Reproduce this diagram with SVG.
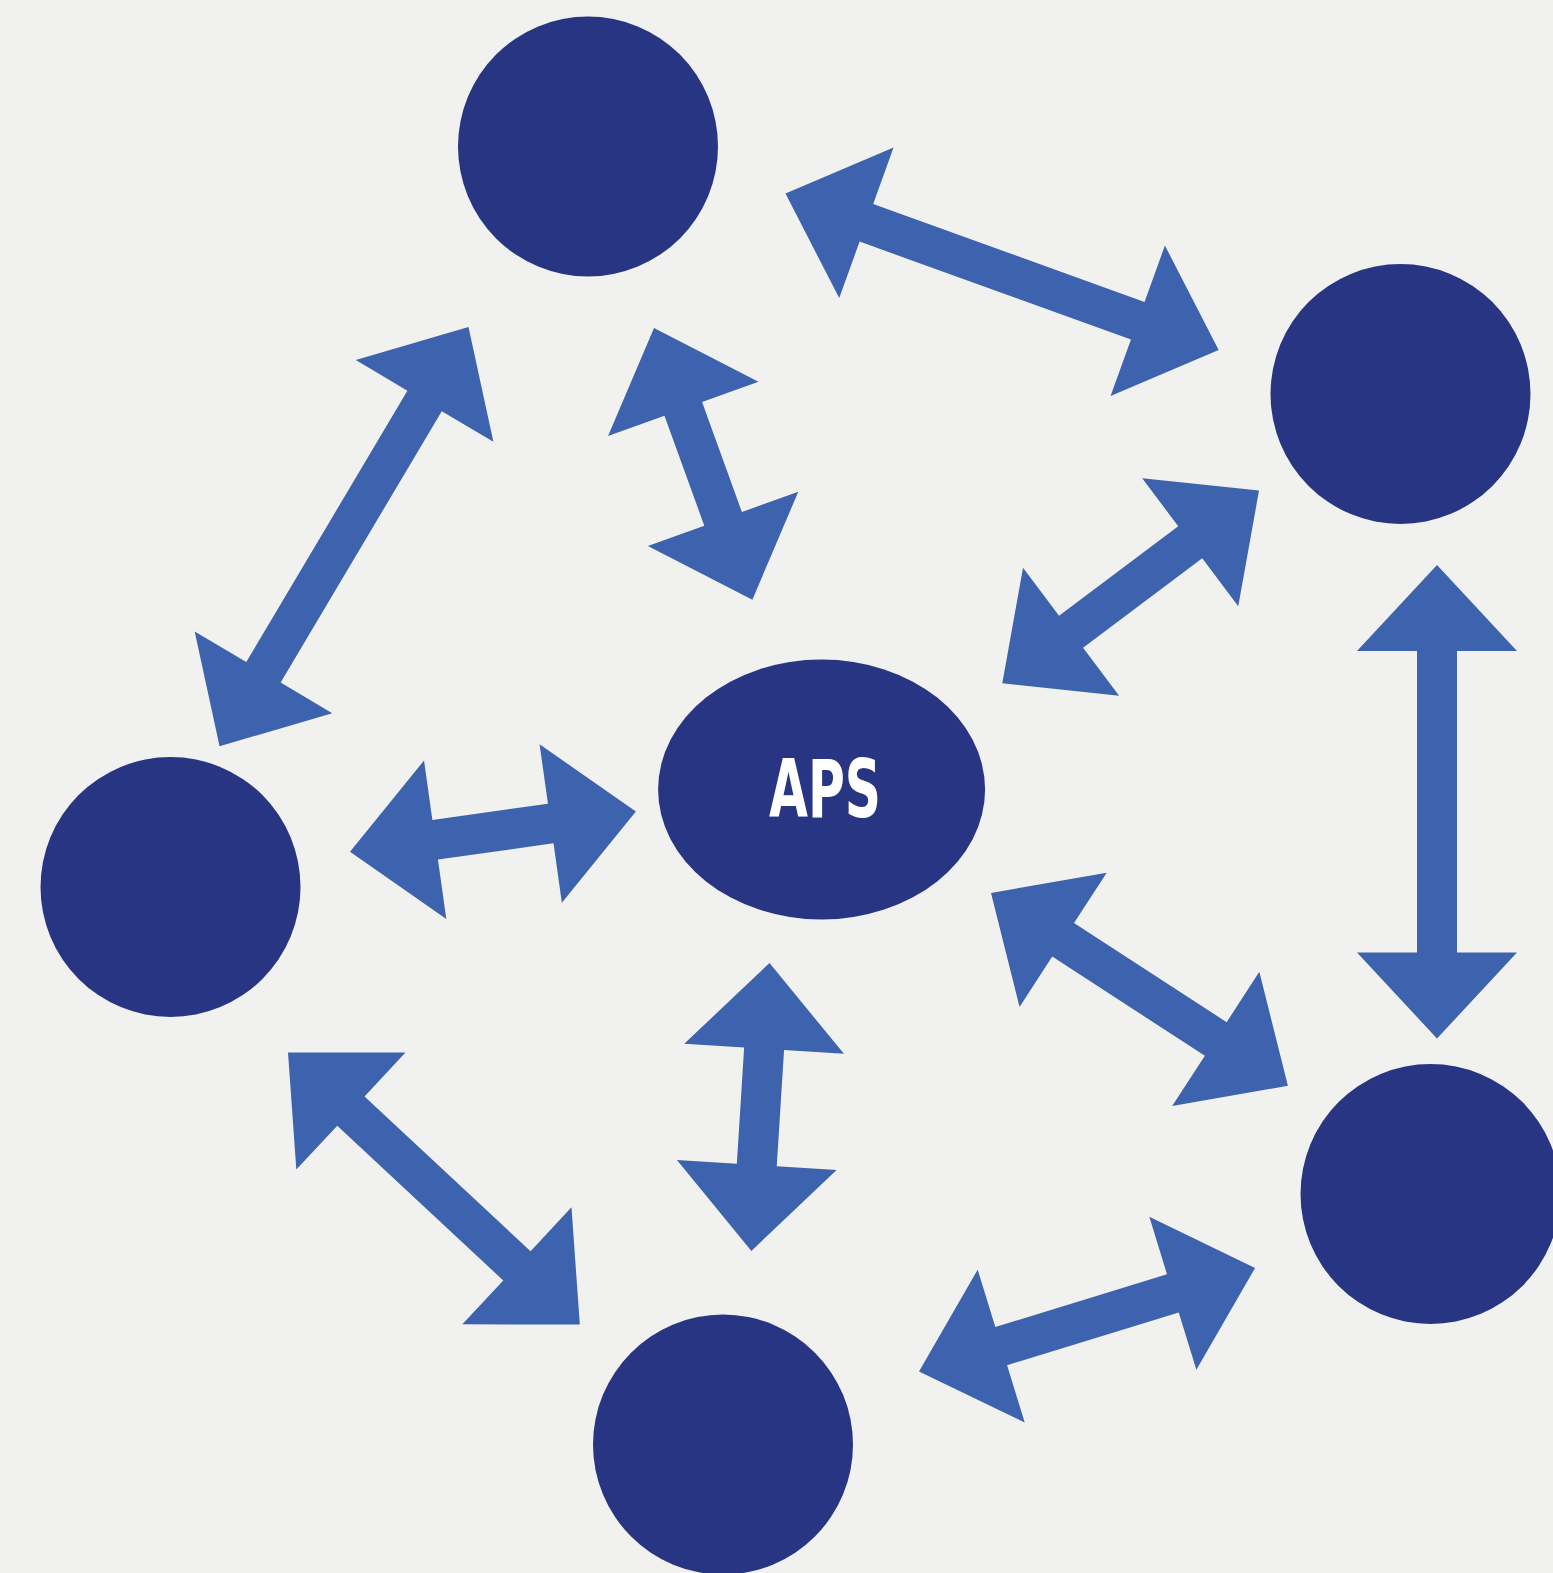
<svg xmlns="http://www.w3.org/2000/svg" width="1553" height="1573" viewBox="0 0 1553 1573">
<style>
.node{fill:#283583}
.arr{fill:#3d63ae}
.lbl{fill:#ffffff;font-family:"DejaVu Sans Condensed","Liberation Sans",sans-serif;font-weight:700;font-size:81px}
</style>
<rect width="1553" height="1573" fill="#f1f1ef"/>
<g id="connectors">
<polygon class="arr" transform="translate(785.5,193.6) rotate(19.85)" points="0,0 86,-80 86,-20 374.5,-20 374.5,-80 460.5,0 374.5,80 374.5,20 86,20 86,80"/>
<polygon class="arr" transform="translate(468.5,327) rotate(120.7)" points="0,0 86,-80 86,-20 401.6,-20 401.6,-80 487.6,0 401.6,80 401.6,20 86,20 86,80"/>
<polygon class="arr" transform="translate(654,328) rotate(70.1)" points="0,0 86,-80 86,-20 203,-20 203,-80 289,0 203,80 203,20 86,20 86,80"/>
<polygon class="arr" transform="translate(1259,490.6) rotate(143.1)" points="0,0 86,-80 86,-20 235,-20 235,-80 321,0 235,80 235,20 86,20 86,80"/>
<polygon class="arr" transform="translate(1437,565) rotate(90)" points="0,0 86,-80 86,-20 387.5,-20 387.5,-80 473.5,0 387.5,80 387.5,20 86,20 86,80"/>
<polygon class="arr" transform="translate(991,893) rotate(33)" points="0,0 86,-80 86,-20 268,-20 268,-80 354,0 268,80 268,20 86,20 86,80"/>
<polygon class="arr" transform="translate(350,851.7) rotate(-8)" points="0,0 86,-80 86,-20 202.7,-20 202.7,-80 288.7,0 202.7,80 202.7,20 86,20 86,80"/>
<polygon class="arr" transform="translate(769.5,963) rotate(93.6)" points="0,0 86,-80 86,-20 202.5,-20 202.5,-80 288.5,0 202.5,80 202.5,20 86,20 86,80"/>
<polygon class="arr" transform="translate(288,1052.4) rotate(43)" points="0,0 86,-80 86,-20 313,-20 313,-80 399,0 313,80 313,20 86,20 86,80"/>
<polygon class="arr" transform="translate(919,1371.4) rotate(-17.1)" points="0,0 86,-80 86,-20 265.6,-20 265.6,-80 351.6,0 265.6,80 265.6,20 86,20 86,80"/>
</g>
<g id="node-top"><circle class="node" cx="588" cy="146.5" r="130"/></g>
<g id="node-right-top"><circle class="node" cx="1400.5" cy="394" r="130"/></g>
<g id="node-left"><circle class="node" cx="170.5" cy="887" r="130"/></g>
<g id="node-bottom-right"><circle class="node" cx="1430.5" cy="1194" r="130"/></g>
<g id="node-bottom"><circle class="node" cx="723" cy="1444.6" r="130"/></g>
<g id="node-aps">
<ellipse class="node" cx="821.6" cy="789.5" rx="163.5" ry="130"/>
<text class="lbl" x="825" y="817" text-anchor="middle" textLength="112" lengthAdjust="spacingAndGlyphs">APS</text>
</g>
</svg>
